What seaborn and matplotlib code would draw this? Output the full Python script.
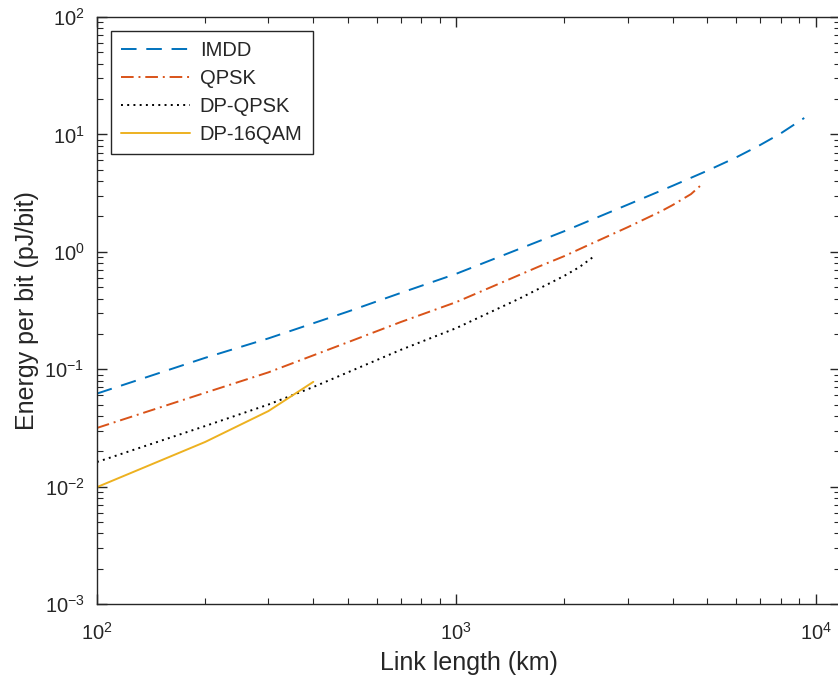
import numpy as np
import pandas as pd
import matplotlib
matplotlib.use("Agg")
import matplotlib.pyplot as plt
import seaborn as sns

# values (link length in km, energy in pJ/bit)
imdd_len = [100, 200, 300, 500, 700, 1000, 2000, 3000, 4000, 5000, 6000, 7000, 8000, 9300]
imdd_energy = [0.062, 0.125, 0.183, 0.31, 0.446, 0.65, 1.50, 2.52, 3.65, 4.91, 6.35, 8.1, 10.2, 13.8]

qpsk_len = [100, 200, 300, 500, 700, 1000, 1700, 2000, 2300, 3000, 3700, 4000, 4500, 4800]
qpsk_energy = [0.0316, 0.063, 0.094, 0.17, 0.252, 0.373, 0.75, 0.92, 1.12, 1.62, 2.2, 2.5, 3.1, 3.7]

dpqpsk_len = [100, 200, 300, 400, 700, 1000, 1500, 2000, 2200, 2400]
dpqpsk_energy = [0.0162, 0.0328, 0.05, 0.0705, 0.146, 0.224, 0.40, 0.625, 0.74, 0.90]

dp16qam_len = [100, 200, 300, 400]
dp16qam_energy = [0.0099, 0.024, 0.044, 0.078]

labels = ["IMDD", "QPSK", "DP-QPSK", "DP-16QAM"]
colors = ["#0072BD", "#D95319", "#000000", "#EDB120"]
styles = [(0, (8, 5)), (0, (6.5, 2.5, 1, 2.5)), (0, (1, 2.2)), "-"]


def main():
    sns.set_style("ticks")
    plt.rcParams["font.family"] = ["Liberation Sans", "DejaVu Sans"]
    plt.rcParams["mathtext.fontset"] = "custom"
    plt.rcParams["mathtext.rm"] = "Liberation Sans"
    plt.rcParams["axes.unicode_minus"] = False

    fig = plt.figure(figsize=(8.38, 6.84), dpi=100)
    ax = fig.add_axes([97 / 838, 1 - 604 / 684, 743 / 838, 587 / 684])
    ax.set_xscale("log")
    ax.set_yscale("log")

    series = [
        (imdd_len, imdd_energy),
        (qpsk_len, qpsk_energy),
        (dpqpsk_len, dpqpsk_energy),
        (dp16qam_len, dp16qam_energy),
    ]
    for (x, y), lab, col, ls in zip(series, labels, colors, styles):
        df = pd.DataFrame({"length": x, "energy": y})
        sns.lineplot(data=df, x="length", y="energy", ax=ax, color=col,
                     linestyle=ls, linewidth=1.4, label=lab, sort=False)

    ax.set_xlim(100, 10 ** 4.068)
    ax.set_ylim(1e-3, 1e2)
    ax.set_xlabel("Link length (km)", fontsize=18, color="#262626", labelpad=5)
    ax.set_ylabel("Energy per bit (pJ/bit)", fontsize=18, color="#262626", labelpad=4)

    ax.tick_params(which="both", direction="in", top=True, right=True,
                   colors="#262626", labelsize=14.5)
    ax.tick_params(which="major", length=7, width=1)
    ax.tick_params(which="minor", length=4, width=0.8)
    ax.tick_params(axis="x", pad=13)
    ax.tick_params(axis="y", pad=9)
    for sp in ax.spines.values():
        sp.set_color("#262626")
        sp.set_linewidth(1.0)

    leg = ax.legend(loc="upper left", bbox_to_anchor=(0.019, 0.976),
                    borderaxespad=0, fontsize=14.5, handlelength=3.4,
                    fancybox=False, framealpha=1, labelspacing=0.45,
                    handletextpad=0.5, borderpad=0.5)
    leg.get_frame().set_edgecolor("#262626")
    leg.get_frame().set_linewidth(1.0)

    fig.savefig("out.png", dpi=100)


if __name__ == "__main__":
    main()
